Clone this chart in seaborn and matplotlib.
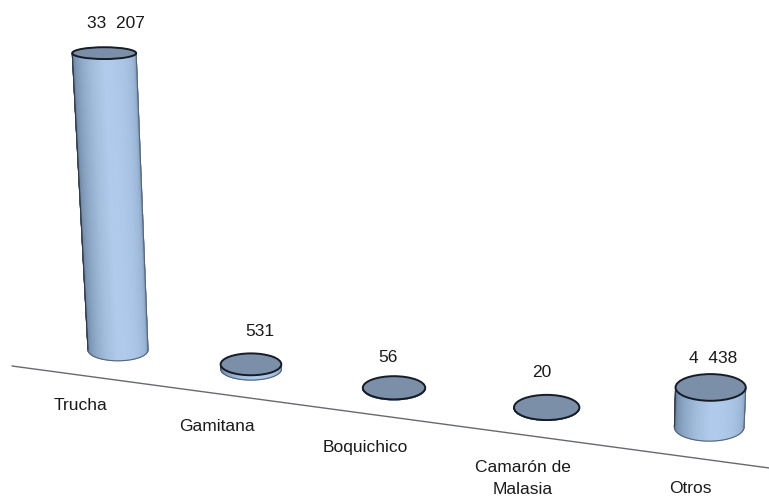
import numpy as np
import pandas as pd
import seaborn as sns
import matplotlib
matplotlib.use("Agg")
import matplotlib.pyplot as plt
from matplotlib.patches import Ellipse

# Aquaculture harvest by species
categories = ["Trucha", "Gamitana", "Boquichico", "Camarón de\nMalasia", "Otros"]
values = [33207, 531, 56, 20, 4438]
value_labels = ["33  207", "531", "56", "20", "4  438"]

sns.set_theme(style="white")
plt.rcParams["font.family"] = ["Liberation Sans", "DejaVu Sans"]

df = pd.DataFrame({"categoria": categories, "valor": values, "rotulo": value_labels})

# Vertical scale: one axis unit is one unit of the plotted value
PX_PER_UNIT = 0.00894
FIG_W, FIG_H = 769, 500
BASE_TOP_PX = 350


def px(n):
    """Screen length in pixels expressed in value units."""
    return n / PX_PER_UNIT


def floor_x(i):
    return 118 + 128.2 * i + 4.9 * i ** 2


def floor_y(i):
    return -px(19 * i + 0.07 * i ** 2)


def radius_x(i):
    return 30 + 0.3 * i ** 2


def radius_y(i):
    return 10.8 + 0.2 * i ** 2


fig = plt.figure(figsize=(FIG_W / 100, FIG_H / 100), dpi=100)
ax = fig.add_axes([0, 0, 1, 1])
ax.set_xlim(0, FIG_W)
ax.set_ylim(-px(FIG_H - BASE_TOP_PX), px(BASE_TOP_PX))
ax.axis("off")

side_cmap = sns.blend_palette(
    ["#3f4c5e", "#7a93b1", "#8fa9c9", "#a3bedd", "#b0cbeb",
     "#aec9e9", "#a7c2e2", "#9ab5d5", "#7f99b9"],
    as_cmap=True,
)
TOP_COLOR = "#7c8fa8"
EDGE_COLOR = "#161c26"


def ring(i, value):
    """Centre and radii of the cylinder cross-section at a given value."""
    h = value * PX_PER_UNIT
    x0 = floor_x(i)
    cx = x0 + (x0 - 450) * 0.00014 * h
    rx = radius_x(i) * (1 + 0.00022 * h)
    ry = px(radius_y(i) - 0.0165 * h)
    return cx, floor_y(i) + value, rx, ry


# Floor line beneath the cylinders
line_x = np.array([12, 769])
line_y = -px((366 + (line_x - 12) * 0.1347) - BASE_TOP_PX)
ax.plot(line_x, line_y, color="#666a70", lw=1.0, zorder=1)

theta = np.linspace(np.pi, 2 * np.pi, 60)
for i, row in df.iterrows():
    v = row["valor"]
    levels = np.linspace(0, v, 12)
    X, Y = [], []
    for lv in levels:
        cx, cy, rx, ry = ring(i, lv)
        X.append(cx + rx * np.cos(theta))
        Y.append(cy + ry * np.sin(theta))
    X, Y = np.array(X), np.array(Y)
    C = np.tile(np.linspace(0, 1, theta.size), (levels.size, 1))
    ax.pcolormesh(X, Y, C, cmap=side_cmap, shading="gouraud", zorder=2)
    # Silhouette of the body
    ax.plot(X[:, 0], Y[:, 0], color="#2f3846", lw=0.8, zorder=3)
    ax.plot(X[:, -1], Y[:, -1], color="#56606e", lw=0.7, zorder=3)
    ax.plot(X[0], Y[0], color="#56657a", lw=0.8, zorder=3)
    # Lid
    cx, cy, rx, ry = ring(i, v)
    ax.add_patch(Ellipse((cx, cy), 2 * rx, 2 * ry, facecolor=TOP_COLOR,
                         edgecolor=EDGE_COLOR, lw=1.4, zorder=4))

# Value labels above each lid, category labels below the floor line
value_offsets = [(12, 30), (9, 33), (-6, 30), (-5, 35), (2, 29)]
name_offsets = [(-38, 56), (-34, 57), (-29, 59), (-24, 71), (-19, 61)]
for i, row in df.iterrows():
    cx, cy, _, _ = ring(i, row["valor"])
    ax.annotate(row["rotulo"], (cx, cy), xytext=value_offsets[i],
                textcoords="offset pixels", ha="center", va="center",
                fontsize=12.5, color="#1a1a1a", zorder=5)
    ax.annotate(row["categoria"], (floor_x(i), floor_y(i)), xytext=(name_offsets[i][0], -name_offsets[i][1]),
                textcoords="offset pixels", ha="center", va="center",
                fontsize=12.5, color="#1a1a1a", linespacing=1.6, zorder=5)

fig.savefig("out.png", dpi=100, facecolor="white")
